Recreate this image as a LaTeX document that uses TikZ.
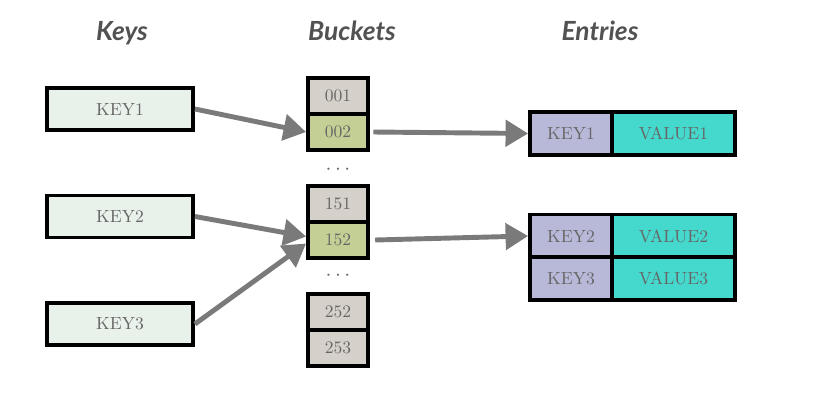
\documentclass[tikz,border=0pt]{standalone}
\usepackage{fontspec}
\newfontfamily\titlefont{Lato}
\usetikzlibrary{arrows.meta}
\definecolor{keyfill}{HTML}{E9F1EB}
\definecolor{bucketfill}{HTML}{D5D0C9}
\definecolor{hitfill}{HTML}{C4CF95}
\definecolor{ekeyfill}{HTML}{B8B8D8}
\definecolor{valfill}{HTML}{45D8CC}
\definecolor{labelgray}{HTML}{666666}
\definecolor{arrowgray}{HTML}{7A7A7A}
\tikzset{
  title/.style={anchor=base, font=\titlefont\bfseries\itshape\fontsize{15}{17}\selectfont, text=black!68},
  box/.style={draw=black, line width=2.2pt, font=\fontsize{10}{12}\selectfont, text=labelgray, inner sep=0pt},
  keybox/.style={box, fill=keyfill, minimum width=2.92cm, minimum height=0.84cm},
  bucket/.style={box, fill=bucketfill, minimum width=1.2cm, minimum height=0.72cm},
  hit/.style={bucket, fill=hitfill},
  ekey/.style={box, fill=ekeyfill, minimum width=1.64cm, minimum height=0.86cm},
  eval/.style={box, fill=valfill, minimum width=2.46cm, minimum height=0.86cm},
  dots/.style={text=labelgray, font=\large},
  link/.style={draw=arrowgray, line width=2.8pt, -{Triangle[length=0.45cm,width=0.52cm]}}
}
\begin{document}
\begin{tikzpicture}[x=1cm,y=1cm]
\useasboundingbox (0,0) rectangle (16.26,-8.02);
% column titles
\node[title] (tkeys) at (2.44,-0.8) {Keys};
\node[title] (tbuckets) at (7.04,-0.8) {Buckets};
\node[title] (tentries) at (12.0,-0.8) {Entries};
% keys
\node[keybox] (k1) at (2.4,-2.18) {KEY1};
\node[keybox] (k2) at (2.4,-4.33) {KEY2};
\node[keybox] (k3) at (2.4,-6.48) {KEY3};
% buckets
\node[bucket] (b001) at (6.76,-1.92) {001};
\node[hit] (b002) at (6.76,-2.64) {002};
\node[dots] (d1) at (6.76,-3.4) {$\cdots$};
\node[bucket] (b151) at (6.76,-4.08) {151};
\node[hit] (b152) at (6.76,-4.8) {152};
\node[dots] (d2) at (6.76,-5.52) {$\cdots$};
\node[bucket] (b252) at (6.76,-6.24) {252};
\node[bucket] (b253) at (6.76,-6.96) {253};
% entries
\node[ekey] (e1) at (11.42,-2.67) {KEY1};
\node[eval] (v1) at (13.47,-2.67) {VALUE1};
\node[ekey] (e2) at (11.42,-4.72) {KEY2};
\node[eval] (v2) at (13.47,-4.72) {VALUE2};
\node[ekey] (e3) at (11.42,-5.57) {KEY3};
\node[eval] (v3) at (13.47,-5.57) {VALUE3};
% links
\draw[link] (k1.east) -- (b002.west);
\draw[link] (k2.east) -- ([yshift=2pt]b152.west);
\draw[link] (k3.east) -- ([yshift=-2pt]b152.west);
\draw[link] ([xshift=2pt]b002.east) -- (e1.west);
\draw[link] ([xshift=3pt]b152.east) -- (e2.west);
\end{tikzpicture}
\end{document}
